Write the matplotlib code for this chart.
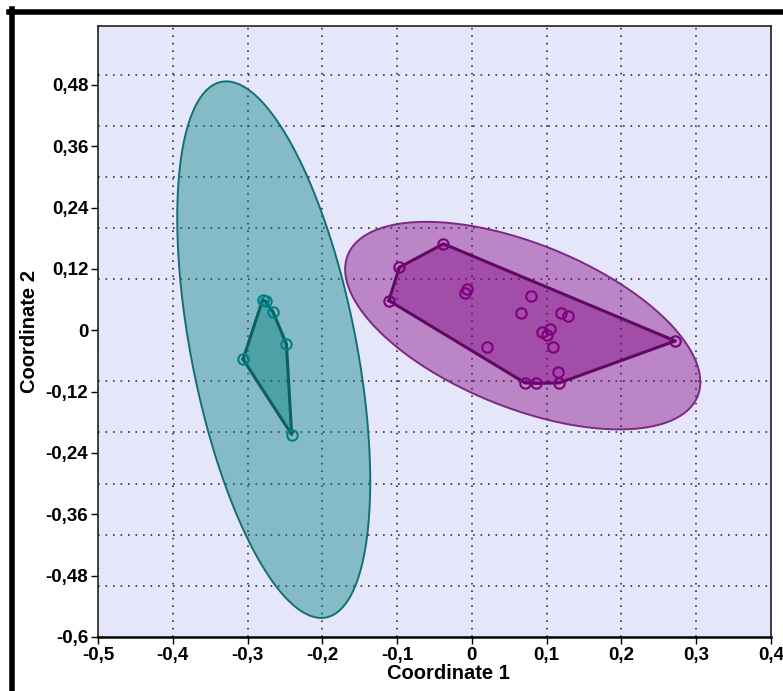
import numpy as np
import matplotlib
matplotlib.use("Agg")
import matplotlib.pyplot as plt
from matplotlib.lines import Line2D

plt.rcParams['font.family'] = ['Liberation Sans', 'DejaVu Sans']

# --- data ---
teal_x = [-0.280, -0.276, -0.266, -0.248, -0.306, -0.241]
teal_y = [0.059, 0.057, 0.036, -0.027, -0.057, -0.204]

purple_x = [-0.038, -0.097, -0.111, -0.007, -0.009, 0.079, 0.066, 0.119, 0.128,
            0.104, 0.094, 0.101, 0.020, 0.109, 0.115, 0.071, 0.086, 0.117, 0.272]
purple_y = [0.169, 0.123, 0.058, 0.081, 0.072, 0.066, 0.033, 0.034, 0.028,
            0.003, -0.004, -0.009, -0.033, -0.032, -0.081, -0.103, -0.104, -0.103, -0.021]

# 95% ellipses: centre and shape matrix [[sxx, sxy], [sxy, syy]]
teal_centre = (-0.265, -0.038)
teal_shape = [[0.01665, -0.0333], [-0.0333, 0.2753]]
purple_centre = (0.068, 0.009)
purple_shape = [[0.0564, -0.0262], [-0.0262, 0.0412]]

xticks = [-0.5, -0.4, -0.3, -0.2, -0.1, 0, 0.1, 0.2, 0.3, 0.4]
xlabels = ['-0,5', '-0,4', '-0,3', '-0,2', '-0,1', '0', '0,1', '0,2', '0,3', '0,4']
yticks = [-0.6, -0.48, -0.36, -0.24, -0.12, 0, 0.12, 0.24, 0.36, 0.48]
ylabels = ['-0,6', '-0,48', '-0,36', '-0,24', '-0,12', '0', '0,12', '0,24', '0,36', '0,48']


def hull(xs, ys):
    pts = sorted(set(zip(xs, ys)))
    def cross(o, a, b):
        return (a[0]-o[0])*(b[1]-o[1]) - (a[1]-o[1])*(b[0]-o[0])
    lower, upper = [], []
    for p in pts:
        while len(lower) >= 2 and cross(lower[-2], lower[-1], p) <= 0:
            lower.pop()
        lower.append(p)
    for p in reversed(pts):
        while len(upper) >= 2 and cross(upper[-2], upper[-1], p) <= 0:
            upper.pop()
        upper.append(p)
    h = np.array(lower[:-1] + upper[:-1])
    return h[:, 0], h[:, 1]


def ellipse(centre, shape, n=300):
    t = np.linspace(0, 2*np.pi, n)
    L = np.linalg.cholesky(np.array(shape))
    xy = L @ np.vstack([np.cos(t), np.sin(t)])
    return centre[0] + xy[0], centre[1] + xy[1]


fig = plt.figure(figsize=(7.83, 6.91), dpi=100)
ax = fig.add_axes([98/783, 54/691, 673/783, 611/691])
ax.set_facecolor('#e6e6fa')

groups = [
    (teal_x, teal_y, teal_centre, teal_shape, '#008080', '#136f73', '#0d5f60'),
    (purple_x, purple_y, purple_centre, purple_shape, '#800080', '#7a2a82', '#5e0a63'),
]
for gx, gy, c, s, col, ecol, hcol in groups:
    ex, ey = ellipse(c, s)
    ax.fill(ex, ey, color=col, alpha=0.42, lw=0, zorder=2)
    ax.plot(ex, ey, color=ecol, lw=1.4, zorder=3)
    hx, hy = hull(gx, gy)
    ax.fill(hx, hy, color=col, alpha=0.42, lw=0, zorder=4)
    ax.plot(np.append(hx, hx[0]), np.append(hy, hy[0]), color=hcol, lw=2.2, zorder=5)
    ax.plot(gx, gy, 'o', mfc='none', mec=col, mew=1.5, ms=7.5, zorder=6)

ax.set_xlim(-0.5, 0.4)
ax.set_ylim(-0.6, 0.595)
ax.set_xticks(xticks)
ax.set_xticklabels(xlabels)
ax.set_yticks(yticks)
ax.set_yticklabels(ylabels)
ax.set_yticks(np.arange(-0.5, 0.51, 0.1), minor=True)
ax.tick_params(which='minor', length=0)
ax.tick_params(which='major', length=5, width=1, labelsize=13.5, pad=2)
for lab in ax.get_xticklabels() + ax.get_yticklabels():
    lab.set_fontweight('bold')

ax.grid(which='major', axis='x', color='#333333', linestyle=(0, (1, 3.5)), lw=1.2, zorder=1)
ax.grid(which='minor', axis='y', color='#333333', linestyle=(0, (1, 3.5)), lw=1.2, zorder=1)
ax.set_axisbelow(True)
for sp in ax.spines.values():
    sp.set_linewidth(1.2)
    sp.set_color('#222222')
ax.spines['bottom'].set_linewidth(1.8)
ax.spines['bottom'].set_color('black')

ax.set_xlabel('Coordinate 1', fontsize=14.5, fontweight='bold')
ax.set_ylabel('Coordinate 2', fontsize=14.5, fontweight='bold')
ax.xaxis.set_label_coords(0.52, -0.044)
ax.yaxis.set_label_coords(-0.088, 0.5)

# black frame on the left and top of the figure
fig.add_artist(Line2D([11.5/783, 11.5/783], [0, 1 - 9/691], transform=fig.transFigure,
                      color='black', lw=4))
fig.add_artist(Line2D([9/783, 1], [1 - 11.5/691, 1 - 11.5/691], transform=fig.transFigure,
                      color='black', lw=4))

fig.savefig('out.png', dpi=100)
